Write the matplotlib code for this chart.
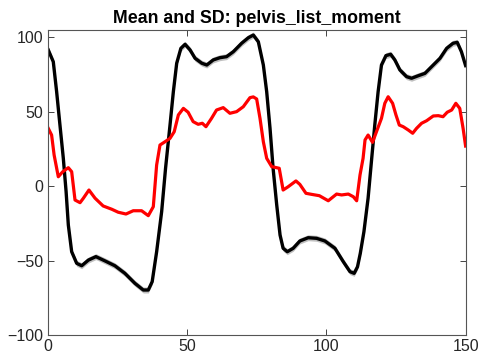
import matplotlib
matplotlib.use("Agg")
import matplotlib.pyplot as plt
import numpy as np

# ── Data ──────────────────────────────────────────────────────────────────────
TITLE = "Mean and SD: pelvis_list_moment"

MEAN_X = [0.2, 2.0, 3.2, 4.4, 5.6, 6.6, 7.4, 8.6, 10.4, 12.2, 14.6, 17.3, 20.6,
          24.1, 27.7, 31.3, 34.3, 36.1, 37.5, 39.1, 40.9, 42.3, 43.9, 45.1,
          46.3, 47.8, 49.3, 51.1, 52.9, 55.3, 57.1, 59.4, 61.8, 64.2, 66.6,
          69.6, 72.0, 73.8, 75.6, 77.4, 78.6, 79.8, 80.9, 82.2, 83.4, 84.5,
          86.0, 88.1, 90.5, 93.5, 96.5, 99.5, 103.1, 106.1, 108.5, 110.0,
          111.2, 112.2, 113.5, 115.0, 116.3, 117.4, 118.6, 119.8, 121.4,
          123.1, 124.6, 126.4, 128.8, 130.6, 133.0, 135.4, 137.8, 140.8,
          143.2, 145.5, 147.0, 148.5, 150.0]
MEAN_Y = [91.5, 83.6, 63.5, 41.0, 18.8, -3.6, -26.0, -43.9, -51.7, -53.3,
          -49.5, -47.2, -50.1, -53.3, -58.4, -65.1, -69.6, -69.6, -64.0,
          -43.9, -17.0, 12.1, 41.1, 63.5, 82.6, 92.6, 95.3, 91.5, 85.9, 82.6,
          81.4, 84.8, 86.3, 87.0, 90.3, 96.0, 99.7, 101.5, 97.0, 81.4, 63.5,
          38.9, 12.1, -12.5, -32.7, -41.6, -43.9, -41.6, -36.7, -34.5, -34.9,
          -36.7, -41.6, -50.6, -57.3, -58.4, -54.0, -45.0, -30.5, -8.0, 18.8,
          41.1, 63.5, 81.4, 87.7, 88.6, 84.8, 78.1, 73.6, 72.5, 74.2, 75.8,
          80.3, 85.9, 92.6, 96.0, 96.6, 90.3, 81.0]
MEAN_SD = [2.0] * len(MEAN_X)

RED_X = [0.2, 1.4, 2.3, 3.8, 5.4, 7.4, 8.6, 9.8, 11.6, 12.8, 14.8, 17.0, 19.9,
         23.0, 25.3, 28.1, 30.7, 33.7, 36.1, 37.9, 39.1, 40.3, 42.1, 43.9,
         45.4, 46.9, 48.7, 50.4, 52.2, 54.0, 55.5, 56.8, 58.8, 60.6, 63.0,
         65.4, 67.8, 70.2, 72.6, 73.8, 75.0, 76.2, 77.4, 78.6, 80.4, 83.1,
         84.5, 86.3, 89.1, 90.5, 92.7, 94.7, 97.5, 100.7, 103.7, 105.5, 107.9,
         109.7, 110.9, 112.1, 113.2, 113.9, 115.0, 116.6, 118.0, 119.8, 121.0,
         122.2, 123.8, 125.0, 126.2, 127.6, 129.4, 131.0, 132.4, 134.2, 136.0,
         138.4, 140.2, 141.9, 143.4, 145.0, 146.5, 147.9, 149.1, 150.0]
RED_Y = [38.9, 34.4, 21.0, 6.4, 9.8, 12.5, 9.8, -9.2, -11.0, -8.0, -2.5, -8.0,
         -13.2, -15.4, -17.4, -18.6, -16.4, -16.4, -19.7, -13.7, 14.3, 27.7,
         29.9, 32.2, 36.6, 47.9, 52.3, 49.7, 43.4, 41.6, 42.3, 40.0, 45.6,
         51.2, 52.8, 49.0, 50.1, 53.4, 59.5, 60.0, 58.6, 45.6, 29.9, 18.8,
         13.2, 12.1, -2.5, -0.3, 3.6, 1.3, -4.7, -5.4, -6.3, -9.7, -5.2, -5.8,
         -5.2, -7.0, -9.7, 7.6, 18.8, 31.1, 34.4, 29.5, 36.6, 45.6, 55.7, 60.1,
         55.7, 47.9, 41.1, 40.0, 37.8, 35.6, 38.9, 42.3, 44.0, 47.2, 47.4,
         46.7, 49.7, 51.2, 55.7, 52.3, 38.9, 27.0]

X_TICKS = [0, 50, 100, 150]
Y_TICKS = [-100, -50, 0, 50, 100]

# ── Styling ───────────────────────────────────────────────────────────────────
plt.rcParams.update({
    "font.family": ["Liberation Sans", "DejaVu Sans"],
    "font.size": 11,
    "xtick.direction": "in",
    "ytick.direction": "in",
    "xtick.top": True,
    "ytick.right": True,
})

AX_COLOR = "#262626"

fig = plt.figure(figsize=(4.8, 3.64), dpi=100)
ax = fig.add_axes([0.0994, 0.0788, 0.8706, 0.838])

mx = np.array(MEAN_X)
my = np.array(MEAN_Y)
sd = np.array(MEAN_SD)
ax.fill_between(mx, my - sd, my + sd, color="#b0b0b0", alpha=0.8, linewidth=0)
ax.plot(mx, my, color="black", linewidth=2.4, solid_joinstyle="round")
ax.plot(RED_X, RED_Y, color="#ff0000", linewidth=2.3, solid_joinstyle="round")

ax.set_xlim(0, 150)
ax.set_ylim(-100, 104.7)
ax.set_xticks(X_TICKS)
ax.set_yticks(Y_TICKS)
ax.tick_params(colors=AX_COLOR, length=4, width=0.6, labelsize=11.5, pad=3)
for sp in ax.spines.values():
    sp.set_color("#555555")
    sp.set_linewidth(0.8)

ax.set_title(TITLE, fontsize=12.8, fontweight="bold", color="black", pad=5)

fig.savefig("out.png", dpi=100)
